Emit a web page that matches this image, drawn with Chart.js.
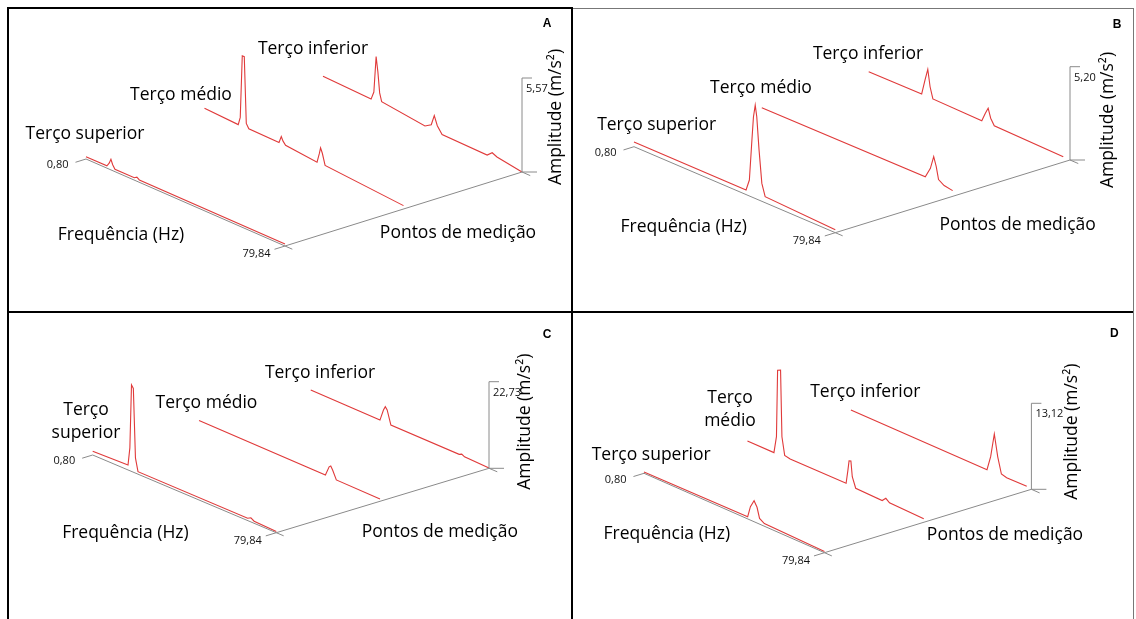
<!DOCTYPE html>
<html>
<head>
<meta charset="utf-8">
<script src="https://cdn.jsdelivr.net/npm/chart.js"></script>
<style>
body { margin: 0; background: #fff; }
#page { position: relative; width: 1136px; height: 619px; overflow: hidden; background: #fff; }
#page canvas { position: absolute; }
.ln { position: absolute; }
</style>
</head>
<body>
<div id="page"></div>
<script>
// frequency range (Hz), measurement points, amplitude axis maxima (m/s²)
const freqTicks = [0.80, 79.84];
const pontos = ['Terço superior', 'Terço médio', 'Terço inferior'];
const ampMax = { A: 5.57, B: 5.20, C: 22.73, D: 13.12 };

// spectra, [Hz, m/s²]
const A_superior = [[0.8,0.14],[9.1,0.14],[10.0,0.35],[10.7,0.63],[11.4,0.35],[12.3,0.14],[20.0,0.14],[21.0,0.24],[22.0,0.14],[79.84,0.12]];
const A_medio = [[0.8,0.81],[14.2,0.72],[15.0,1.2],[15.8,4.9],[16.6,4.9],[17.4,1.0],[18.4,0.75],[30.4,0.72],[31.3,1.13],[32.0,0.9],[33.0,0.72],[45.5,0.53],[46.4,1.1],[46.9,1.48],[47.6,1.2],[48.7,0.55],[79.84,0.2]];
const A_inferior = [[0.8,0.52],[19.9,0.41],[21.0,0.9],[21.9,3.06],[22.6,2.2],[23.3,1.0],[24.1,0.53],[41.3,0.21],[43.8,0.45],[45.0,1.07],[46.2,0.55],[48.1,0.15],[66.0,0.1],[68.0,0.37],[69.9,0.24],[79.84,0.0]];

const B_superior = [[0.8,0.26],[44.8,0.26],[46.1,0.89],[47.1,3.18],[47.7,4.5],[48.4,5.2],[49.0,4.6],[49.9,2.8],[51.0,1.0],[52.3,0.34],[79.84,0.16]];
const B_medio = [[4.9,0.39],[69.1,0.44],[71.1,1.03],[72.4,1.76],[73.4,1.27],[74.3,0.6],[76.5,0.4],[79.84,0.32]];
const B_inferior = [[0.8,0.13],[21.6,0.15],[22.9,1.0],[24.0,1.67],[24.9,0.75],[26.0,0.14],[45.2,0.09],[46.6,0.59],[47.7,0.94],[48.7,0.44],[50.1,0.1],[77.2,0.02]];

const C_superior = [[0.8,1.0],[16.0,1.29],[16.8,6.0],[17.5,22.73],[18.3,22.0],[19.2,4.0],[20.3,0.66],[67.5,0.6],[68.9,1.1],[70.3,0.55],[79.84,0.3]];
const C_medio = [[0.8,0.58],[55.2,0.31],[56.8,2.9],[57.5,3.3],[58.3,2.45],[59.9,0.25],[78.7,0.1]];
const C_inferior = [[3.1,0.76],[32.9,0.55],[34.4,3.57],[35.2,4.65],[36.0,4.0],[37.6,0.45],[67.0,0.35],[68.1,0.7],[69.3,0.3],[79.84,0.05]];

const D_superior = [[0.8,0.2],[46.2,0.34],[47.4,2.06],[49.0,3.2],[50.3,2.4],[51.4,0.88],[53.5,0.4],[79.84,0.18]];
const D_medio = [[0.8,0.1],[12.4,0.1],[13.5,2.7],[14.0,12.9],[15.3,13.12],[15.9,3.05],[17.1,0.4],[19.5,0.2],[44.0,0.26],[44.8,2.4],[45.3,3.9],[46.1,4.0],[46.7,1.68],[48.2,0.15],[59.8,0.05],[61.4,0.64],[63.0,0.2],[78.0,0.05]];
const D_inferior = [[0.8,0.0],[60.4,0.0],[62.0,2.24],[63.6,5.95],[65.1,2.7],[66.7,0.32],[69.0,0.1],[77.8,0.15]];

// layout in page pixels: box, floor corners (near-left, near-right, far-right), amplitude axis height
const panels = [
  { id: 'A', box: [9, 9, 562, 302], nl: [86, 159], nr: [285, 246], fr: [522, 172], ampPx: 94,
    series: [A_superior, A_medio, A_inferior], wrap: [false, false, false],
    names: [[85, 134], [181, 95], [313, 49]], freqTitle: [121, 235], ptsTitle: [458, 233], ampTitle: [556, 117], letter: [547, 24] },
  { id: 'B', box: [573, 9, 560, 302], nl: [634, 146.7], nr: [835.3, 232.7], fr: [1070, 160], ampPx: 93.3,
    series: [B_superior, B_medio, B_inferior], wrap: [false, false, false],
    names: [[656.6, 125], [761, 88.3], [868, 54.3]], freqTitle: [683.7, 226.7], ptsTitle: [1017.7, 225], ampTitle: [1108, 120], letter: [1117, 25] },
  { id: 'C', box: [9, 313, 562, 306], nl: [92.7, 455], nr: [276.3, 532.7], fr: [489, 468.3], ampPx: 86.6,
    series: [C_superior, C_medio, C_inferior], wrap: [true, false, false],
    names: [[86, 421.7], [206.5, 402.7], [320, 373.3]], freqTitle: [125.4, 533.3], ptsTitle: [439.8, 532.3], ampTitle: [525.3, 421.7], letter: [547, 335] },
  { id: 'D', box: [573, 313, 560, 306], nl: [644, 473.3], nr: [824.5, 552.7], fr: [1031.4, 489.3], ampPx: 86,
    series: [D_superior, D_medio, D_inferior], wrap: [false, true, false],
    names: [[651.2, 455], [730, 409.5], [865.3, 391.7]], freqTitle: [666.8, 534], ptsTitle: [1005, 535], ampTitle: [1072.5, 431.7], letter: [1114.4, 334] }
];

const page = document.getElementById('page');
const RED = '#e03a3a';
const GREY = '#8a8a8a';
const FONT = '"Open Sans", sans-serif';

function fmt(v) { return v.toFixed(2).replace('.', ','); }

function lineSet(pts, color, width) {
  return { data: pts, showLine: true, borderColor: color, borderWidth: width,
    pointRadius: 0, tension: 0, clip: false, fill: false };
}

function makePanel(P) {
  const [bx, by, bw, bh] = P.box;
  const cv = document.createElement('canvas');
  cv.width = bw; cv.height = bh;
  cv.style.left = bx + 'px'; cv.style.top = by + 'px';
  page.appendChild(cv);

  const maxA = ampMax[P.id];
  const k = P.ampPx / maxA;
  const f0 = freqTicks[0], f1 = freqTicks[1];
  // oblique projection: frequency along nl->nr, measurement point along nr->fr, amplitude up
  function proj(f, v, a) {
    const u = (f - f0) / (f1 - f0);
    return {
      x: P.nl[0] + u * (P.nr[0] - P.nl[0]) + v * (P.fr[0] - P.nr[0]) - bx,
      y: P.nl[1] + u * (P.nr[1] - P.nl[1]) + v * (P.fr[1] - P.nr[1]) - a * k - by
    };
  }

  const datasets = [
    lineSet([proj(f0, 0, 0), proj(f1, 0, 0)], GREY, 1),
    lineSet([proj(f1, 0, 0), proj(f1, 1, 0)], GREY, 1),
    lineSet([proj(f1, 1, 0), proj(f1, 1, maxA)], GREY, 1)
  ];
  P.series.forEach((s, i) => {
    const v = i / (pontos.length - 1);
    datasets.push(lineSet(s.map(d => proj(d[0], v, d[1])), RED, 1.1));
  });

  const decor = {
    id: 'decor' + P.id,
    afterDatasetsDraw(chart) {
      const ctx = chart.ctx;
      const X = chart.scales.x, Y = chart.scales.y;
      const px = p => [X.getPixelForValue(p.x), Y.getPixelForValue(p.y)];
      const nl = px(proj(f0, 0, 0)), nr = px(proj(f1, 0, 0));
      const fr = px(proj(f1, 1, 0)), top = px(proj(f1, 1, maxA));
      const unit = (a, b) => { const dx = b[0] - a[0], dy = b[1] - a[1], l = Math.hypot(dx, dy); return [dx / l, dy / l]; };
      const dF = unit(nl, nr), dD = unit(nr, fr);
      ctx.save();
      ctx.strokeStyle = GREY; ctx.lineWidth = 1;
      const seg = (a, b) => { ctx.beginPath(); ctx.moveTo(a[0], a[1]); ctx.lineTo(b[0], b[1]); ctx.stroke(); };
      const t0 = [nl[0] - 11 * dD[0], nl[1] - 11 * dD[1]];
      const t1 = [nr[0] - 11 * dD[0], nr[1] - 11 * dD[1]];
      seg(nl, t0); seg(nr, t1);
      seg(nr, [nr[0] + 8 * dF[0], nr[1] + 8 * dF[1]]);
      seg(fr, [fr[0] + 9 * dF[0], fr[1] + 9 * dF[1]]);
      seg(fr, [fr[0] + 15, fr[1]]);
      seg(top, [top[0] + 10, top[1]]);

      ctx.fillStyle = '#111';
      ctx.font = '11px ' + FONT;
      ctx.textBaseline = 'middle';
      ctx.textAlign = 'right';
      ctx.fillText(fmt(freqTicks[0]), t0[0] - 7, t0[1] + 3);
      ctx.fillText(fmt(freqTicks[1]), t1[0] - 4, t1[1] + 5);
      ctx.textAlign = 'left';
      ctx.fillText(fmt(maxA), top[0] + 4, top[1] + 11);

      ctx.fillStyle = '#000';
      ctx.font = '17.5px ' + FONT;
      ctx.textAlign = 'center';
      pontos.forEach((name, i) => {
        const [x, y] = P.names[i];
        if (P.wrap[i]) {
          const parts = name.split(' ');
          ctx.fillText(parts[0], x - bx, y - by - 11.5);
          ctx.fillText(parts[1], x - bx, y - by + 11.5);
        } else {
          ctx.fillText(name, x - bx, y - by);
        }
      });
      ctx.fillText('Frequência (Hz)', P.freqTitle[0] - bx, P.freqTitle[1] - by);
      ctx.fillText('Pontos de medição', P.ptsTitle[0] - bx, P.ptsTitle[1] - by);
      ctx.save();
      ctx.translate(P.ampTitle[0] - bx, P.ampTitle[1] - by);
      ctx.rotate(-Math.PI / 2);
      ctx.fillText('Amplitude (m/s²)', 0, 0);
      ctx.restore();
      ctx.font = 'bold 12px "Liberation Sans", Arial, sans-serif';
      ctx.fillText(P.id, P.letter[0] - bx, P.letter[1] - by);
      ctx.restore();
    }
  };

  new Chart(cv, {
    type: 'scatter',
    data: { datasets },
    options: {
      responsive: false,
      animation: false,
      events: [],
      layout: { padding: 0 },
      plugins: { legend: { display: false }, tooltip: { enabled: false } },
      scales: {
        x: { type: 'linear', display: false, min: 0, max: bw },
        y: { type: 'linear', display: false, min: 0, max: bh, reverse: true }
      }
    },
    plugins: [decor]
  });
}

// panel frame lines
function rule(x, y, w, h, color) {
  const d = document.createElement('div');
  d.className = 'ln';
  d.style.cssText = `left:${x}px;top:${y}px;width:${w}px;height:${h}px;background:${color}`;
  page.appendChild(d);
}
rule(7, 7, 2, 612, '#000');
rule(7, 7, 566, 2, '#000');
rule(573, 8, 561, 1, '#777');
rule(571, 7, 2, 612, '#000');
rule(7, 311, 1127, 2, '#000');
rule(1133, 8, 1, 611, '#777');

panels.forEach(makePanel);
</script>
</body>
</html>
